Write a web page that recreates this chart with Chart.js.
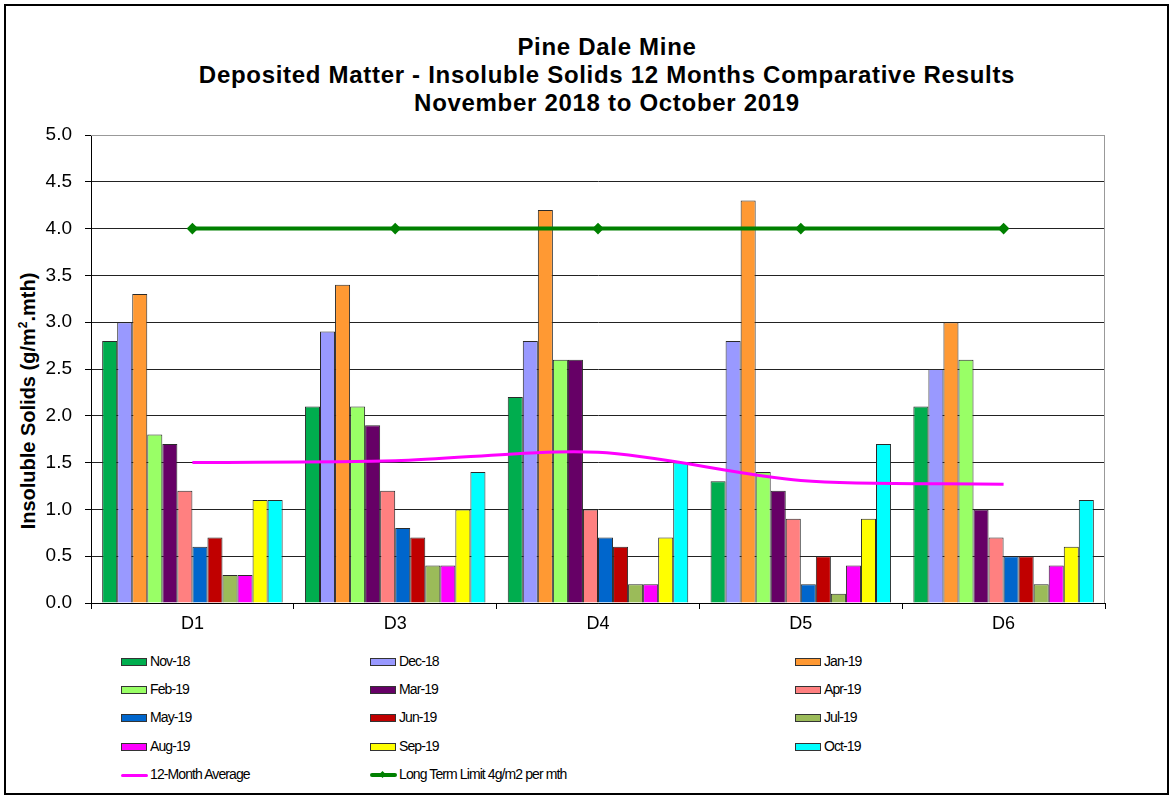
<!DOCTYPE html>
<html>
<head>
<meta charset="utf-8">
<script src="https://cdn.jsdelivr.net/npm/chart.js@4.4.0/dist/chart.umd.min.js"></script>
<style>
  html, body { margin: 0; padding: 0; background: #fff; }
  #wrap { position: relative; width: 1174px; height: 799px; background: #fff; font-family: 'Liberation Sans', Arial, sans-serif; overflow: hidden; }
  #frame { position: absolute; left: 4px; top: 4px; width: 1165px; height: 791px; border: 2px solid #000; box-sizing: border-box; }
  #chart { position: absolute; left: 0; top: 0; }
  .ttl { position: absolute; left: 0; width: 1214px; text-align: center; font-weight: bold; font-size: 24px; letter-spacing: 0.7px; color: #000; line-height: 28px; }
  #ytitle { position: absolute; left: 28px; top: 401px; transform: translate(-50%, -50%) rotate(-90deg); white-space: nowrap; font-weight: bold; font-size: 20px; color: #000; }
  .lg { position: absolute; height: 20px; font-size: 14px; letter-spacing: -0.9px; color: #000; white-space: nowrap; }
  .lg .sw { position: absolute; left: 0; top: 6px; width: 26px; height: 8px; box-sizing: border-box; border: 1px solid #333; }
  .lg .ln { position: absolute; left: 0; width: 27px; }
  .lg .tx { position: absolute; left: 29px; top: 1px; }
</style>
</head>
<body>
<div id="wrap">
  <div id="frame"></div>
  <div class="ttl" style="top:33px;">Pine Dale Mine</div>
  <div class="ttl" style="top:61px;">Deposited Matter - Insoluble Solids 12 Months Comparative Results</div>
  <div class="ttl" style="top:89px;">November 2018 to October 2019</div>
  <div id="ytitle">Insoluble Solids (g/m<sup style="font-size:12px;">2</sup>.mth)</div>
  <canvas id="chart" width="1174" height="640"></canvas>
  <div id="legend"></div>
</div>
<script>
// ── Data ─────────────────────────────────────────────────────────────────────
const sites  = ['D1', 'D3', 'D4', 'D5', 'D6'];
const months = ['Nov-18', 'Dec-18', 'Jan-19', 'Feb-19', 'Mar-19', 'Apr-19',
                'May-19', 'Jun-19', 'Jul-19', 'Aug-19', 'Sep-19', 'Oct-19'];
const monthColors = ['#00AD4E', '#9999FF', '#FF9933', '#99FF66', '#660066', '#FF8080',
                     '#0066CC', '#C00000', '#9BBB59', '#FF00FF', '#FFFF00', '#00FFFF'];

// one row per month, one value per site
const nov18 = [2.8, 2.1, 2.2, 1.3, 2.1];
const dec18 = [3.0, 2.9, 2.8, 2.8, 2.5];
const jan19 = [3.3, 3.4, 4.2, 4.3, 3.0];
const feb19 = [1.8, 2.1, 2.6, 1.4, 2.6];
const mar19 = [1.7, 1.9, 2.6, 1.2, 1.0];
const apr19 = [1.2, 1.2, 1.0, 0.9, 0.7];
const may19 = [0.6, 0.8, 0.7, 0.2, 0.5];
const jun19 = [0.7, 0.7, 0.6, 0.5, 0.5];
const jul19 = [0.3, 0.4, 0.2, 0.1, 0.2];
const aug19 = [0.3, 0.4, 0.2, 0.4, 0.4];
const sep19 = [1.1, 1.0, 0.7, 0.9, 0.6];
const oct19 = [1.1, 1.4, 1.5, 1.7, 1.1];
const monthValues = [nov18, dec18, jan19, feb19, mar19, apr19, may19, jun19, jul19, aug19, sep19, oct19];

const avg12      = [1.50, 1.52, 1.61, 1.31, 1.27];
const limitLine  = [4.0, 4.0, 4.0, 4.0, 4.0];
const avgLabel   = '12-Month Average';
const limitLabel = 'Long Term Limit 4g/m2 per mth';

const yTicks = [0, 0.5, 1, 1.5, 2, 2.5, 3, 3.5, 4, 4.5, 5];

// ── Chart ────────────────────────────────────────────────────────────────────
const barSets = months.map((m, i) => ({
  type: 'bar', label: m, data: monthValues[i],
  backgroundColor: monthColors[i], borderColor: '#2a2a2a', borderWidth: 1,
  categoryPercentage: 0.89, barPercentage: 1.0, order: 2,
}));

const lineSets = [
  { type: 'line', label: avgLabel, data: avg12, borderColor: '#FF00FF', borderWidth: 3,
    pointRadius: 0, tension: 0.3, fill: false, order: 1 },
  { type: 'line', label: limitLabel, data: limitLine, borderColor: '#008000', borderWidth: 4,
    pointStyle: 'rectRot', pointRadius: 3, pointBackgroundColor: '#008000', pointBorderColor: '#008000',
    fill: false, order: 0 },
];

const plotFrame = {
  id: 'plotFrame',
  beforeDatasetsDraw(chart) {
    const { ctx, chartArea: a } = chart;
    ctx.save();
    ctx.strokeStyle = '#999';
    ctx.lineWidth = 1;
    ctx.beginPath();
    ctx.moveTo(a.left, a.top + 0.5);
    ctx.lineTo(a.right - 0.5, a.top + 0.5);
    ctx.lineTo(a.right - 0.5, a.bottom);
    ctx.stroke();
    ctx.restore();
  },
};

Chart.defaults.font.family = "'Liberation Sans', Arial, sans-serif";
Chart.defaults.color = '#000';

new Chart(document.getElementById('chart').getContext('2d'), {
  data: { labels: sites, datasets: [...barSets, ...lineSets] },
  options: {
    responsive: false, animation: false, devicePixelRatio: 1,
    layout: { padding: { left: 0, right: 69, top: 135, bottom: 0 } },
    plugins: { legend: { display: false }, title: { display: false }, tooltip: { enabled: false } },
    scales: {
      x: {
        afterFit: s => { s.height = 37; },
        grid: { display: true, drawOnChartArea: false, drawTicks: true, tickLength: 6, color: '#000', offset: true },
        border: { color: '#000' },
        ticks: { font: { size: 18 }, padding: 4, color: '#000' },
      },
      y: {
        min: 0, max: 5,
        afterFit: s => { s.width = 91; },
        afterBuildTicks: s => { s.ticks = yTicks.map(v => ({ value: v })); },
        grid: { color: c => (c.tick && c.tick.value === 5 ? '#999' : '#222'), tickColor: '#000', tickLength: 6 },
        border: { color: '#000' },
        ticks: { font: { size: 19 }, padding: 13, color: '#000', callback: v => Number(v).toFixed(1) },
      },
    },
  },
  plugins: [plotFrame],
});

// ── Legend (3 columns, Excel style) ──────────────────────────────────────────
const legendCols = [121, 370, 795];
const legendRows = [662, 690, 718, 747, 775];
const legendItems = [
  ...months.map((m, i) => ({ label: m, kind: 'box', color: monthColors[i] })),
  { label: avgLabel, kind: 'line', color: '#FF00FF', width: 3 },
  { label: limitLabel, kind: 'line', color: '#008000', width: 4, marker: true },
];
document.getElementById('legend').innerHTML = legendItems.map((it, i) => {
  const left = legendCols[i % 3], top = legendRows[Math.floor(i / 3)] - 10;
  let sw;
  if (it.kind === 'box') sw = `<div class="sw" style="background:${it.color};"></div>`;
  else {
    sw = `<div class="ln" style="top:${10 - it.width / 2}px;height:${it.width}px;background:${it.color};border-radius:2px;"></div>`;
    if (it.marker) sw += `<div style="position:absolute;left:10px;top:7px;width:5px;height:5px;background:${it.color};transform:rotate(45deg);"></div>`;
  }
  return `<div class="lg" style="left:${left}px;top:${top}px;">${sw}<span class="tx">${it.label}</span></div>`;
}).join('');
</script>
</body>
</html>
